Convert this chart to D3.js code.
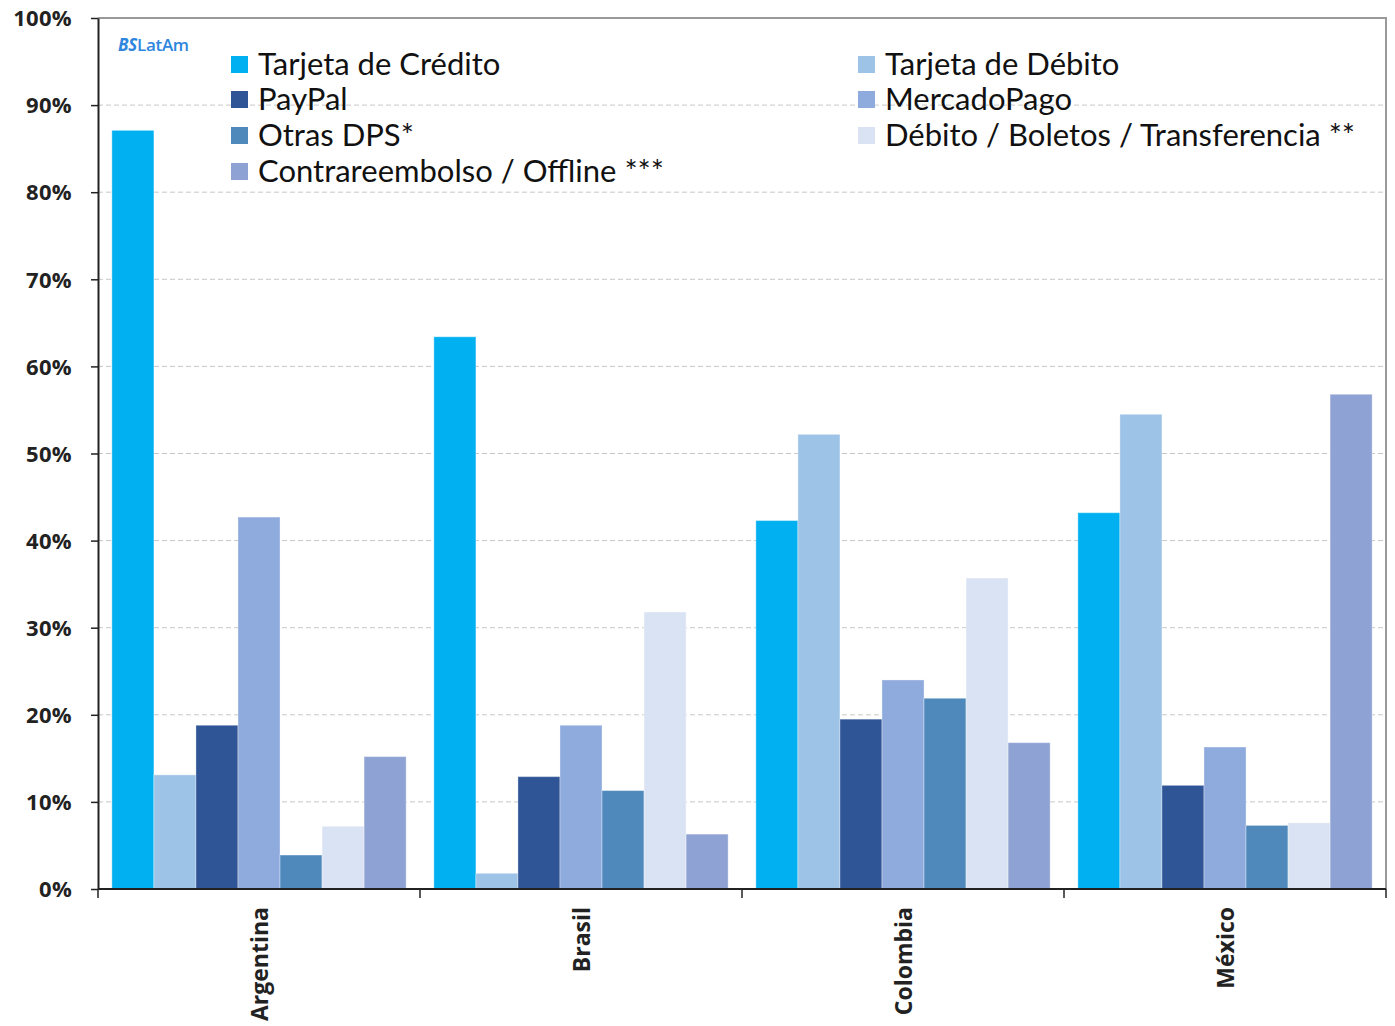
<!DOCTYPE html>
<html><head><meta charset="utf-8">
<script src="https://cdn.jsdelivr.net/npm/d3@7"></script>
<style>body{margin:0;background:#fff}svg{display:block}</style>
</head><body>
<svg id="c" width="1395" height="1026"></svg>
<script>
const countries = ["Argentina","Brasil","Colombia","México"];
const seriesNames = ["Tarjeta de Crédito","Tarjeta de Débito","PayPal","MercadoPago","Otras DPS*","Débito / Boletos / Transferencia **","Contrareembolso / Offline ***"];
const seriesColors = ["#00B0F0","#9DC3E6","#2F5597","#8FAADC","#4F89BC","#DAE3F3","#8FA2D4"];
const credito = [87.1, 63.4, 42.3, 43.2];
const debito = [13.1, 1.8, 52.2, 54.5];
const paypal = [18.8, 12.9, 19.5, 11.9];
const mercadoPago = [42.7, 18.8, 24.0, 16.3];
const otrasDPS = [3.9, 11.3, 21.9, 7.3];
const boletos = [7.2, 31.8, 35.7, 7.6];
const contra = [15.2, 6.3, 16.8, 56.8];
const yTicks = [0,10,20,30,40,50,60,70,80,90,100];
const seriesValues = [credito, debito, paypal, mercadoPago, otrasDPS, boletos, contra];

const svg = d3.select("#c");
const L = 98, R = 1386, T = 18, B = 889;
const x0 = d3.scaleBand().domain(countries).range([L, R]).paddingInner(0).paddingOuter(0);
const x1 = d3.scaleBand().domain(d3.range(seriesNames.length)).range([0, x0.bandwidth()]).paddingOuter(0.33).paddingInner(0);
const y = d3.scaleLinear().domain([0,100]).range([B, T]);

// frame (top/right gray)
svg.append("path").attr("d",`M${L},${T}H${R}V${B}`).attr("fill","none").attr("stroke","#9a9a9a").attr("stroke-width",2);

// grid
svg.append("g").selectAll("line").data(yTicks.filter(d=>d>0&&d<100)).join("line")
  .attr("x1",L).attr("x2",R).attr("y1",d=>y(d)).attr("y2",d=>y(d))
  .attr("stroke","#c8c8c8").attr("stroke-width",1).attr("stroke-dasharray","5,3");

// bars
const g = svg.append("g");
countries.forEach((c,ci)=>{
  seriesValues.forEach((vals,si)=>{
    g.append("rect")
      .attr("x", x0(c)+x1(si)).attr("width", x1.bandwidth())
      .attr("y", y(vals[ci])).attr("height", B - y(vals[ci]))
      .attr("fill", seriesColors[si]).attr("stroke","#ffffff").attr("stroke-opacity",0.35).attr("stroke-width",1);
  });
});

// y axis
const ya = svg.append("g").attr("transform",`translate(${L},0)`)
  .call(d3.axisLeft(y).tickValues(yTicks).tickFormat(d=>d+"%").tickSize(7).tickSizeOuter(0));
ya.select(".domain").attr("stroke","#222").attr("stroke-width",2);
ya.selectAll(".tick line").attr("stroke","#222").attr("stroke-width",1.5);
ya.selectAll("text").attr("font-family","'Open Sans', sans-serif").attr("font-weight","bold").attr("font-size",22).attr("letter-spacing","0.3px").attr("fill","#222").attr("x",-26).attr("dy","0.35em");

// x axis
const xa = svg.append("g").attr("transform",`translate(0,${B})`);
xa.append("line").attr("x1",L).attr("x2",R).attr("stroke","#222").attr("stroke-width",2);
const bounds = countries.map(c=>x0(c)).concat([R]);
xa.selectAll("line.t").data(bounds).join("line").attr("class","t")
  .attr("x1",d=>d).attr("x2",d=>d).attr("y1",0).attr("y2",9).attr("stroke","#222").attr("stroke-width",1.5);
xa.selectAll("text").data(countries).join("text")
  .attr("transform",d=>`translate(${x0(d)+x0.bandwidth()/2+9},18) rotate(-90)`)
  .attr("text-anchor","end").attr("font-family","'Open Sans', sans-serif").attr("font-weight","bold")
  .attr("font-size",23).attr("fill","#222").text(d=>d);

// legend
const legendPos = [[231,64],[858,64],[231,99],[858,99],[231,135],[858,135],[231,171],[858,171]];
const lg = svg.append("g");
seriesNames.forEach((n,i)=>{
  const [lx,ly] = legendPos[i];
  lg.append("rect").attr("x",lx).attr("y",ly-8).attr("width",17).attr("height",17).attr("fill",seriesColors[i]);
  lg.append("text").attr("x",lx+27).attr("y",ly).attr("dy","0.36em")
    .attr("font-family","Lato, sans-serif").attr("font-size",31).attr("fill","#111").text(n);
});

// logo
const logo = svg.append("text").attr("x",118).attr("y",51).attr("font-family","'Open Sans', sans-serif").attr("font-size",17).attr("font-weight","600").attr("fill","#2E86DE").attr("letter-spacing","-0.3px");
logo.append("tspan").attr("font-weight","bold").attr("font-style","italic").text("BS");
logo.append("tspan").text("LatAm");
</script>
</body></html>
